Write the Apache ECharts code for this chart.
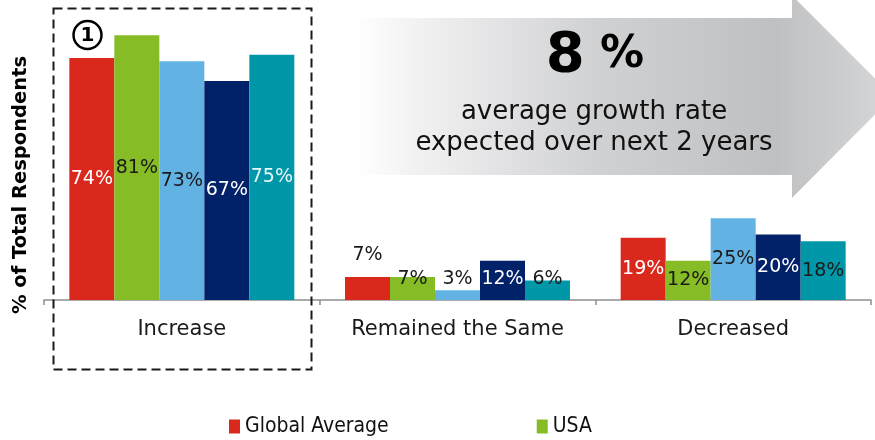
<!DOCTYPE html>
<html>
<head>
<meta charset="utf-8">
<script src="https://cdn.jsdelivr.net/npm/echarts@6/dist/echarts.min.js"></script>
<style>
html,body{margin:0;padding:0;background:#fff;}
#c{width:875px;height:440px;}
</style>
</head>
<body>
<div id="c"></div>
<script>
// ---- data ----
const categories = ['Increase', 'Remained the Same', 'Decreased'];
const seriesNames = ['Global Average', 'USA', 'Series 3', 'Series 4', 'Series 5'];
const globalAverage = [74, 7, 19];
const usa = [81, 7, 12];
const series3 = [73, 3, 25];
const series4 = [67, 12, 20];
const series5 = [75, 6, 18];
const legendNames = ['Global Average', 'USA'];
const headline = '8';
const headlineUnit = '%';
const subLine1 = 'average growth rate';
const subLine2 = 'expected over next 2 years';
const yTitle = '% of Total Respondents';

// ---- styling ----
const colors = ['#DA291C', '#86BC25', '#62B3E4', '#012169', '#0097A9'];
const labelColors = [
  ['#ffffff', '#1a1a1a', '#ffffff'],
  ['#1a1a1a', '#1a1a1a', '#1a1a1a'],
  ['#1a1a1a', '#1a1a1a', '#1a1a1a'],
  ['#ffffff', '#ffffff', '#ffffff'],
  ['#eaf6f8', '#1a1a1a', '#1a1a1a']
];
const allValues = [globalAverage, usa, series3, series4, series5];

function labelFor(s, i) {
  const base = {
    show: true,
    formatter: '{c}%',
    fontFamily: 'DejaVu Sans',
    fontSize: 19,
    color: labelColors[s][i]
  };
  if (i === 1) {
    if (s === 0) {
      base.position = 'top';
      base.distance = 13;
    } else {
      base.position = 'insideBottom';
      base.distance = 11;
    }
  } else {
    base.position = 'inside';
  }
  return base;
}

const chart = echarts.init(document.getElementById('c'), null, {renderer: 'canvas'});

const series = allValues.map((vals, s) => ({
  name: seriesNames[s],
  type: 'bar',
  barWidth: 45,
  barGap: '0%',
  itemStyle: {color: colors[s]},
  data: vals.map((v, i) => ({value: v, label: labelFor(s, i)})),
  z: 2
}));

const option = {
  animation: false,
  backgroundColor: '#ffffff',
  grid: {left: 44, right: 4, top: 5.7, bottom: 140, containLabel: false},
  xAxis: {
    type: 'category',
    data: categories,
    axisLine: {show: true, lineStyle: {color: '#8f8f8f', width: 1.5}},
    axisTick: {show: true, length: 5, inside: false, lineStyle: {color: '#8f8f8f', width: 1.5}},
    axisLabel: {
      interval: 0,
      hideOverlap: false,
      color: '#1a1a1a',
      fontFamily: 'DejaVu Sans',
      fontSize: 21,
      margin: 19
    }
  },
  yAxis: {
    type: 'value',
    min: 0,
    max: 90,
    show: false,
    splitLine: {show: false}
  },
  legend: {
    data: legendNames,
    left: 224,
    top: 411,
    itemWidth: 11,
    itemHeight: 14,
    itemGap: 148,
    icon: 'rect',
    textStyle: {
      fontFamily: '"DejaVu Sans Condensed", "Liberation Sans", sans-serif',
      fontSize: 21,
      color: '#111111',
      padding: [0, 0, 0, 0]
    },
    selectedMode: false
  },
  graphic: [
    {
      type: 'polygon',
      z: 0,
      shape: {
        points: [[355, 18], [792, 18], [792, -4.5], [893, 96.5], [792, 198], [792, 175], [355, 175]]
      },
      style: {
        fill: new echarts.graphic.LinearGradient(0, 0, 1, 0, [
          {offset: 0, color: '#ffffff'},
          {offset: 0.12, color: '#f1f1f2'},
          {offset: 0.45, color: '#d0d1d3'},
          {offset: 0.78, color: '#bfc0c2'},
          {offset: 1, color: '#d6d7d9'}
        ])
      }
    },
    {
      type: 'text',
      z: 5,
      x: 595,
      y: 84,
      style: {
        text: '{a|' + headline + '}{b| ' + headlineUnit + '}',
        textAlign: 'center',
        textVerticalAlign: 'bottom',
        rich: {
          a: {fontFamily: 'DejaVu Sans', fontWeight: 'bold', fontSize: 56, color: '#000'},
          b: {fontFamily: 'DejaVu Sans', fontWeight: 'bold', fontSize: 44, color: '#000'}
        }
      }
    },
    {
      type: 'text',
      z: 5,
      x: 594,
      y: 112,
      style: {
        text: subLine1,
        fontFamily: 'DejaVu Sans',
        fontSize: 26,
        fill: '#111111',
        textAlign: 'center',
        textVerticalAlign: 'middle'
      }
    },
    {
      type: 'text',
      z: 5,
      x: 594,
      y: 143,
      style: {
        text: subLine2,
        fontFamily: 'DejaVu Sans',
        fontSize: 26,
        fill: '#111111',
        textAlign: 'center',
        textVerticalAlign: 'middle'
      }
    },
    {
      type: 'text',
      z: 5,
      x: 21,
      y: 185,
      rotation: Math.PI / 2,
      style: {
        text: yTitle,
        fontFamily: 'DejaVu Sans',
        fontWeight: 'bold',
        fontSize: 19.5,
        fill: '#000000',
        textAlign: 'center',
        textVerticalAlign: 'middle'
      }
    },
    {
      type: 'rect',
      z: 10,
      shape: {x: 53.5, y: 8.5, width: 258, height: 361},
      style: {fill: 'none', stroke: '#1a1a1a', lineWidth: 2, lineDash: [9, 5]}
    },
    {
      type: 'circle',
      z: 10,
      shape: {cx: 87.5, cy: 35, r: 14},
      style: {fill: '#ffffff', stroke: '#000000', lineWidth: 2.5}
    },
    {
      type: 'text',
      z: 11,
      x: 87.5,
      y: 35.5,
      style: {
        text: '1',
        fontFamily: 'DejaVu Sans',
        fontWeight: 'bold',
        fontSize: 20,
        fill: '#000000',
        textAlign: 'center',
        textVerticalAlign: 'middle'
      }
    }
  ],
  series: series
};
chart.setOption(option);
</script>
</body>
</html>
